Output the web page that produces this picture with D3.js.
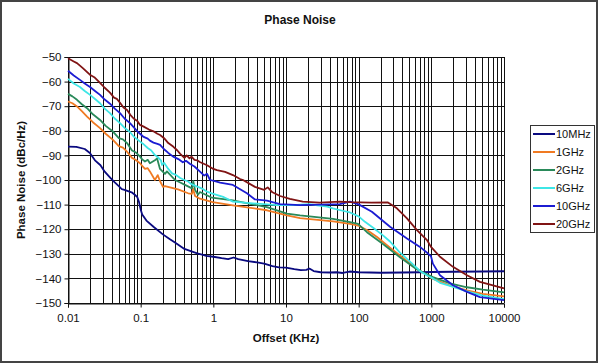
<!DOCTYPE html>
<html><head><meta charset="utf-8">
<script src="https://cdn.jsdelivr.net/npm/d3@7"></script>
<style>
html,body{margin:0;padding:0;background:#fff;}
svg{display:block;font-family:"Liberation Sans",Arial,sans-serif;}
</style></head>
<body>
<svg id="chart" width="600" height="364"></svg>
<script>
const title = "Phase Noise";
const xTitle = "Offset (KHz)";
const yTitle = "Phase Noise (dBc/Hz)";
const xTickValues = [0.01, 0.1, 1, 10, 100, 1000, 10000];
const xTickLabels = ["0.01", "0.1", "1", "10", "100", "1000", "10000"];
const yTickValues = [-50, -60, -70, -80, -90, -100, -110, -120, -130, -140, -150];
const seriesNames = ["10MHz", "1GHz", "2GHz", "6GHz", "10GHz", "20GHz"];
const seriesColors = ["#0a0a80", "#f07a22", "#2a8a5a", "#3ee6e6", "#1c1cd2", "#801414"];

const s10MHz = [[0.01,-86.4],[0.013,-86.5],[0.017,-87.4],[0.02,-89],[0.0235,-92],[0.028,-94],[0.032,-96.6],[0.038,-99],[0.044,-101],[0.05,-102.5],[0.055,-103.7],[0.06,-104],[0.067,-104.5],[0.075,-105],[0.083,-106],[0.09,-107],[0.095,-109],[0.1,-112],[0.105,-114],[0.12,-116.5],[0.15,-119],[0.2,-122],[0.25,-124],[0.3,-125.5],[0.4,-128],[0.5,-129],[0.6,-129.8],[0.7,-130.3],[0.8,-130.8],[1,-131.2],[1.3,-131.8],[1.6,-132.2],[1.9,-131.5],[2.2,-132.2],[3,-133],[4,-133.5],[5,-134],[6.5,-135],[8,-135.5],[10,-135.6],[13,-136.2],[16,-136.6],[19,-136.5],[21,-136],[24,-137],[30,-137.5],[40,-137.6],[50,-137.5],[60,-137.8],[75,-137.2],[100,-137.5],[200,-137.7],[400,-137.6],[700,-137.5],[1000,-137.4],[2000,-137.3],[5000,-137.2],[10000,-137.1]];
const s1GHz = [[0.01,-68.1],[0.0115,-68.8],[0.0133,-70.1],[0.0155,-72],[0.0183,-74.2],[0.022,-76.5],[0.0276,-78.9],[0.033,-81.2],[0.0416,-83.7],[0.05,-86.2],[0.057,-86.8],[0.0649,-88.5],[0.076,-91],[0.085,-91.8],[0.098,-93.2],[0.105,-94.3],[0.1147,-95.5],[0.125,-95.2],[0.134,-96.5],[0.157,-100],[0.1716,-98],[0.185,-100.5],[0.203,-102.8],[0.216,-102.5],[0.3265,-103.8],[0.45,-105.4],[0.508,-105.6],[0.525,-103.5],[0.56,-106.5],[0.655,-107.6],[0.98,-109],[1.86,-110.3],[5.47,-112.3],[10.3,-114.4],[15.6,-115.5],[44.4,-116.8],[76,-117.8],[98,-118.5],[130,-120.3],[179,-123.2],[270,-127.5],[370,-130.7],[634,-136.1],[1054,-140.2],[1807,-142.9],[3093,-144.9],[5130,-146.3],[10000,-147.3]];
const s2GHz = [[0.01,-65],[0.0115,-66],[0.0133,-67.4],[0.0155,-69.2],[0.0183,-70.8],[0.022,-73.3],[0.0276,-75.6],[0.033,-78],[0.0416,-80.3],[0.05,-83],[0.057,-83.5],[0.0649,-85],[0.076,-88],[0.085,-88.7],[0.098,-90.5],[0.105,-91.6],[0.1147,-92.5],[0.125,-91.8],[0.134,-93.2],[0.157,-92],[0.168,-91.2],[0.1845,-95.5],[0.216,-97.5],[0.23,-96.5],[0.297,-100],[0.35,-101],[0.407,-102],[0.508,-103.4],[0.53,-100.5],[0.56,-104],[0.615,-106],[0.655,-104.9],[0.958,-107.2],[1.86,-108.3],[3.2,-109.7],[5.47,-111],[10.3,-113.7],[15.6,-114.4],[44.4,-115.8],[76,-117.1],[98,-117.8],[130,-121.2],[216,-126],[370,-131.4],[634,-136.4],[1054,-139.5],[1807,-142],[3093,-143.6],[5130,-144.6],[10000,-145.7]];
const s6GHz = [[0.01,-58.9],[0.012,-60.8],[0.0146,-62.2],[0.017,-63.8],[0.0201,-65.4],[0.024,-67.3],[0.0276,-68.8],[0.032,-71],[0.0378,-72.8],[0.044,-75],[0.052,-76.9],[0.06,-78.8],[0.0713,-80.5],[0.08,-82.3],[0.09,-83.5],[0.098,-84.4],[0.11,-85.5],[0.125,-87],[0.14,-88],[0.155,-89.7],[0.17,-90.5],[0.19,-92],[0.197,-93.9],[0.21,-93],[0.24,-95.5],[0.27,-97.3],[0.3,-97.8],[0.35,-99.2],[0.4,-100],[0.45,-100.6],[0.5,-101.7],[0.6,-102.7],[0.7,-103.5],[0.8,-104.6],[0.95,-105.4],[1.4,-107],[1.86,-108.8],[3.5,-109.5],[7.5,-110.2],[12.5,-110.2],[21,-109.8],[27,-110.3],[37,-110.8],[44,-111.5],[60,-112.5],[76,-113.2],[100,-114.8],[122,-117],[160,-119.5],[216,-122.5],[270,-125],[370,-129.5],[500,-133],[698,-137],[900,-139],[1054,-140],[1315,-141.8],[1807,-143],[3093,-145.3],[5130,-147],[10000,-148.4]];
const s10GHz = [[0.01,-55.6],[0.012,-57.5],[0.0146,-59.3],[0.017,-60.8],[0.0201,-62.2],[0.024,-64],[0.0276,-65.4],[0.032,-67.3],[0.0378,-69],[0.044,-71],[0.052,-72.8],[0.06,-75],[0.0713,-76.9],[0.08,-78.5],[0.09,-80.2],[0.098,-81.2],[0.11,-82.5],[0.125,-83.2],[0.134,-84],[0.15,-84.8],[0.17,-85.3],[0.185,-85.7],[0.21,-87.5],[0.24,-89],[0.28,-90.5],[0.33,-91.5],[0.38,-92.8],[0.42,-92.2],[0.48,-93.5],[0.55,-94.5],[0.65,-96.5],[0.75,-98.2],[0.82,-97.5],[0.9,-100],[1.05,-100.5],[1.24,-101.1],[1.86,-102],[2.9,-105.4],[3.74,-107.9],[5.47,-108.4],[8.26,-109.8],[15.6,-110.2],[55,-109.8],[76,-108.8],[100,-109.9],[152,-112.9],[270,-119],[462,-123.8],[698,-127.2],[900,-129.9],[989,-131],[1050,-134],[1315,-138.7],[1986,-142.8],[3093,-145.5],[4667,-147.6],[10000,-148.8]];
const s20GHz = [[0.01,-50.5],[0.012,-51.8],[0.0133,-52.5],[0.016,-54.5],[0.02,-57.2],[0.023,-58.2],[0.0276,-60.5],[0.032,-62.5],[0.0378,-64.5],[0.043,-66.5],[0.047,-67],[0.052,-68.6],[0.058,-70.5],[0.065,-71.5],[0.072,-73.5],[0.08,-75],[0.09,-76],[0.098,-77.6],[0.11,-78.3],[0.13,-79.5],[0.15,-80.2],[0.17,-81.2],[0.185,-81.7],[0.21,-83],[0.24,-85],[0.28,-86.4],[0.32,-88],[0.35,-89.4],[0.4,-91],[0.43,-90],[0.47,-91.2],[0.5,-90.5],[0.55,-91.8],[0.6,-92],[0.65,-92.7],[0.82,-94],[1.0,-95.5],[1.12,-96],[1.45,-96.7],[1.86,-98],[2.33,-99.6],[2.56,-100],[3.74,-102.8],[5.0,-104],[5.6,-103],[6.5,-105],[8.3,-106.5],[11.3,-107.7],[17,-108.8],[29,-109.2],[55,-108.8],[76,-109],[150,-109.2],[253,-109.1],[336,-111.5],[462,-115.6],[634,-120.4],[871,-124.4],[989,-127.2],[1315,-131.2],[1986,-135.3],[3093,-138.7],[4667,-141.4],[7047,-142.8],[10000,-144.1]];
const seriesData = [s10MHz, s1GHz, s2GHz, s6GHz, s10GHz, s20GHz];

const svg = d3.select("#chart");
const W = 600, H = 364;
const plot = {left: 68, right: 504, top: 57, bottom: 303};

// outer frame
svg.append("rect").attr("x", 1).attr("y", 1).attr("width", W - 4).attr("height", H - 3)
  .attr("fill", "#fff").attr("stroke", "#444").attr("stroke-width", 2);

const x = d3.scaleLog().domain([0.01, 10000]).range([plot.left, plot.right]);
const y = d3.scaleLinear().domain([-150, -50]).range([plot.bottom, plot.top]);

// grid: vertical lines at each 1..9 x decade
const minor = [];
for (let e = -2; e < 4; e++) for (let m = 1; m <= 9; m++) minor.push(m * Math.pow(10, e));
minor.push(10000);
const g = svg.append("g");
g.selectAll("line.v").data(minor).join("line").attr("class", "v")
  .attr("x1", d => Math.round(x(d)) + 0.5).attr("x2", d => Math.round(x(d)) + 0.5)
  .attr("y1", plot.top).attr("y2", plot.bottom)
  .attr("stroke", "#111").attr("stroke-width", 1);
g.selectAll("line.h").data(yTickValues).join("line").attr("class", "h")
  .attr("x1", plot.left).attr("x2", plot.right)
  .attr("y1", d => Math.round(y(d)) + 0.5).attr("y2", d => Math.round(y(d)) + 0.5)
  .attr("stroke", "#111").attr("stroke-width", 1);

// axes
const yAxis = d3.axisLeft(y).tickValues(yTickValues).tickSize(4).tickPadding(3).tickFormat(d3.format("d"));
const ya = svg.append("g").attr("transform", `translate(${plot.left + 0.5},0)`).call(yAxis);
ya.select(".domain").attr("stroke", "#111");
ya.selectAll(".tick line").attr("stroke", "#111");
ya.selectAll("text").attr("font-size", 11.5).attr("fill", "#111").attr("font-family", "Liberation Sans, Arial");

const xAxis = d3.axisBottom(x).tickValues(xTickValues).tickSize(4).tickPadding(6)
  .tickFormat((d, i) => xTickLabels[i]);
const xa = svg.append("g").attr("transform", `translate(0,${plot.bottom + 0.5})`).call(xAxis);
xa.select(".domain").attr("stroke", "#111");
xa.selectAll(".tick line").attr("stroke", "#111");
xa.selectAll("text").attr("font-size", 11.5).attr("fill", "#111").attr("font-family", "Liberation Sans, Arial");

// lines
const line = d3.line().x(d => x(d[0])).y(d => y(d[1]));
svg.append("g").selectAll("path").data(seriesData).join("path")
  .attr("d", line).attr("fill", "none")
  .attr("stroke", (d, i) => seriesColors[i]).attr("stroke-width", 1.8)
  .attr("stroke-linejoin", "round");

// titles
svg.append("text").attr("x", 300).attr("y", 24).attr("text-anchor", "middle")
  .attr("font-size", 12).attr("font-weight", "bold").attr("fill", "#111").text(title);
svg.append("text").attr("x", 286).attr("y", 342).attr("text-anchor", "middle")
  .attr("font-size", 11.5).attr("font-weight", "bold").attr("fill", "#111").text(xTitle);
svg.append("text").attr("transform", `translate(25,${(plot.top + plot.bottom) / 2}) rotate(-90)`)
  .attr("text-anchor", "middle").attr("font-size", 11.5).attr("font-weight", "bold").attr("fill", "#111").text(yTitle);

// legend
const lg = svg.append("g");
lg.append("rect").attr("x", 530.5).attr("y", 125.5).attr("width", 64).attr("height", 107)
  .attr("fill", "#fff").attr("stroke", "#333").attr("stroke-width", 1);
const items = lg.selectAll("g.item").data(seriesNames).join("g").attr("class", "item")
  .attr("transform", (d, i) => `translate(0,${134 + i * 18})`);
items.append("line").attr("x1", 533).attr("x2", 555).attr("y1", 0).attr("y2", 0)
  .attr("stroke", (d, i) => seriesColors[i]).attr("stroke-width", 2);
items.append("text").attr("x", 556).attr("y", 4).attr("font-size", 11).attr("fill", "#111").text(d => d);
</script>
</body></html>
